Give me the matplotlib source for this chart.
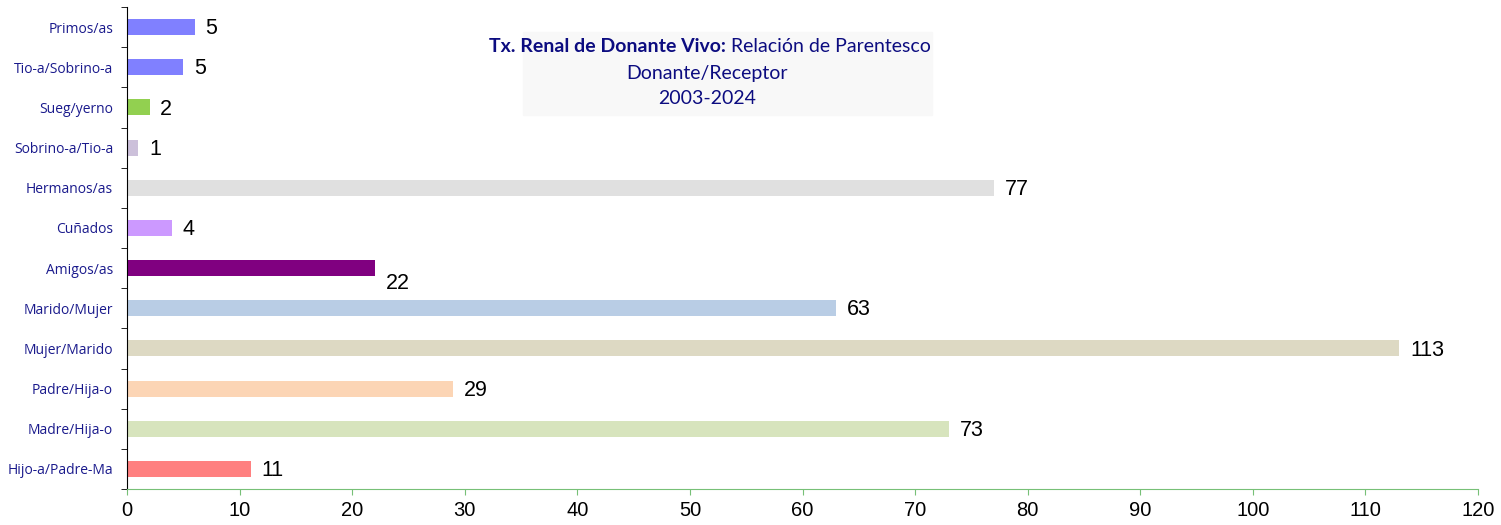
import matplotlib
matplotlib.use("Agg")
import matplotlib.pyplot as plt

# bottom to top
categories = ["Hijo-a/Padre-Ma", "Madre/Hija-o", "Padre/Hija-o", "Mujer/Marido",
              "Marido/Mujer", "Amigos/as", "Cuñados", "Hermanos/as",
              "Sobrino-a/Tio-a", "Sueg/yerno", "Tio-a/Sobrino-a", "Primos/as"]
values = [11, 73, 29, 113, 63, 22, 4, 77, 1, 2, 5, 6]
labels = ["11", "73", "29", "113", "63", "22", "4", "77", "1", "2", "5", "5"]
colors = ["#ff8080", "#d7e4bd", "#fcd5b5", "#ddd9c3", "#b9cde5", "#800080",
          "#cc99ff", "#e0e0e0", "#ccc0da", "#92d050", "#8080ff", "#8080ff"]
xticks = list(range(0, 121, 10))

fig = plt.figure(figsize=(15.01, 5.25), dpi=100)
ax = fig.add_axes([127 / 1501, 36 / 525, 1351 / 1501, 482 / 525])

y = list(range(len(categories)))
ax.barh(y, values, height=0.4, color=colors)

for i, (v, lab) in enumerate(zip(values, labels)):
    dy = -0.35 if categories[i] == "Amigos/as" else 0
    ax.text(v + 0.95, i + dy - 0.04, lab, va="center", ha="left", fontsize=15.5,
            family="Liberation Sans", color="black")

ax.set_xlim(0, 120)
ax.set_ylim(-0.5, len(categories) - 0.5)
ax.set_xticks(xticks)
ax.set_xticklabels([str(t) for t in xticks], fontsize=14.5, family="Liberation Sans")
ax.set_yticks(y)
ax.set_yticklabels(categories, fontsize=10, family="Open Sans", color="#1a1a8c")
ax.set_yticks([i + 0.5 for i in range(-1, len(categories))], minor=True)
ax.tick_params(axis="y", which="major", length=0, pad=10)
ax.tick_params(axis="y", which="minor", length=4, color="black", direction="out")
ax.tick_params(axis="x", length=4, color="#77c077", direction="out", pad=5)

for s in ["top", "right"]:
    ax.spines[s].set_visible(False)
ax.spines["left"].set_color("black")
ax.spines["bottom"].set_color("#77c077")

# title box
fig.patches.append(plt.Rectangle((523 / 1501, 1 - 115 / 525), 409 / 1501, 83 / 525,
                                 transform=fig.transFigure, color="#f8f8f8", zorder=0))
navy = "#0c0c80"
fig.text(726 / 1501, 1 - 47 / 525, "Tx. Renal de Donante Vivo:", ha="right",
         va="center", fontsize=14, color=navy, family="Lato", weight="bold")
fig.text(731 / 1501, 1 - 47 / 525, "Relación de Parentesco", ha="left",
         va="center", fontsize=14, color=navy, family="Lato")
fig.text(707 / 1501, 1 - 73 / 525, "Donante/Receptor", ha="center",
         va="center", fontsize=14, color=navy, family="Lato")
fig.text(707 / 1501, 1 - 99 / 525, "2003-2024", ha="center",
         va="center", fontsize=14, color=navy, family="Lato")

fig.savefig("out.png", dpi=100)
